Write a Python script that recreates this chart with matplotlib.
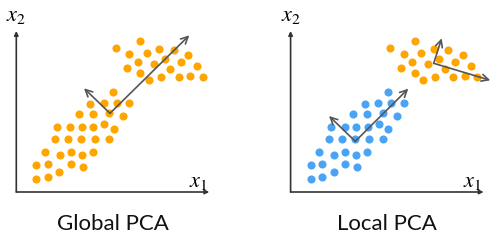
import matplotlib
matplotlib.use("Agg")
import matplotlib.pyplot as plt

plt.rcParams['mathtext.fontset'] = 'stix'

# Data (panel coordinates, 1 unit ~ 1 px, origin at axis corner)
cluster_a_x = [97, 87.7, 100.4, 113, 74, 62.4, 76.4, 92.4, 106.4, 40.7, 54, 65.7, 77, 88, 97.4,
               38.4, 51.4, 64.7, 78.7, 92.7, 28.4, 43.4, 54.4, 65.7, 76.7, 20, 31.7, 54.4, 66.7,
               20, 31.7, 43]
cluster_a_y = [99.7, 89.3, 89.3, 89.3, 87.7, 77.7, 77.7, 78.7, 75.7, 65.3, 65.3, 65.3, 65.3, 68.3, 62.7,
               53.3, 53.3, 53.3, 53.3, 53.3, 40, 37.3, 40, 37.3, 40, 27.3, 28, 28, 25,
               13.3, 15.3, 19.7]
cluster_b_x = [99.4, 124, 113, 130.4, 143, 157.4, 172, 121.4, 137.4, 148.4, 164.7, 180.4, 110.4, 124,
               154, 132.4, 144.4, 162.7, 174, 186.4]
cluster_b_y = [143.7, 150.7, 138.3, 139.3, 142.7, 142, 137, 130, 127.7, 133, 130, 125.7, 123.7, 119,
               123.3, 111.7, 115.3, 115.3, 116.3, 114.7]

# PCA vectors: (center, pc1 tip, pc2 tip)
global_pca = [(93.7, 78.7), (173, 156.7), (67.7, 103.7)]
local_pca_a = [(64.7, 50.7), (117.7, 103.3), (38.4, 76)]
local_pca_b = [(143.1, 128.7), (199.7, 111.7), (151.1, 153.7)]

titles = ["Global PCA", "Local PCA"]

ORANGE = "#FFA500"
BLUE = "#4BA3F5"
AXC = "#333333"
ARC = "#555555"

W, H = 502, 249
fig = plt.figure(figsize=(W / 100, H / 100), dpi=100)

def make_ax(left_px):
    ax = fig.add_axes([left_px / W, (H - 192) / H, 200 / W, 175 / H])
    ax.set_xlim(0, 200)
    ax.set_ylim(0, 175)
    ax.axis('off')
    ax.annotate("", xy=(193, 0), xytext=(0, 0),
                arrowprops=dict(arrowstyle='-|>', color=AXC, lw=1.2, mutation_scale=6,
                                shrinkA=0, shrinkB=0), annotation_clip=False)
    ax.annotate("", xy=(0, 161), xytext=(0, 0),
                arrowprops=dict(arrowstyle='-|>', color=AXC, lw=1.2, mutation_scale=6,
                                shrinkA=0, shrinkB=0), annotation_clip=False)
    ax.text(0, 176, r"$x_2$", fontsize=16, ha='center', va='center', clip_on=False)
    ax.text(182, 10, r"$x_1$", fontsize=16, ha='center', va='center', clip_on=False)
    return ax

def draw_pca(ax, pca):
    c, p1, p2 = pca
    for tip in (p1, p2):
        ax.annotate("", xy=tip, xytext=c,
                    arrowprops=dict(arrowstyle='->,head_length=0.5,head_width=0.25', color=ARC,
                                    lw=1.2, mutation_scale=10, shrinkA=0, shrinkB=0),
                    annotation_clip=False, zorder=5)

# Left panel
ax1 = make_ax(16.3)
ax1.scatter(cluster_a_x, cluster_a_y, s=34, color=ORANGE, linewidths=0, clip_on=False)
ax1.scatter(cluster_b_x, cluster_b_y, s=34, color=ORANGE, linewidths=0, clip_on=False)
draw_pca(ax1, global_pca)
ax1.text(96.7, -32, titles[0], fontsize=16, family='Lato', ha='center',
         va='center', color='#111111', clip_on=False)

# Right panel
ax2 = make_ax(290.6)
ax2.scatter(cluster_a_x, cluster_a_y, s=34, color=BLUE, linewidths=0, clip_on=False)
ax2.scatter(cluster_b_x, cluster_b_y, s=34, color=ORANGE, linewidths=0, clip_on=False)
draw_pca(ax2, local_pca_a)
draw_pca(ax2, local_pca_b)
ax2.text(96.4, -32, titles[1], fontsize=16, family='Lato', ha='center',
         va='center', color='#111111', clip_on=False)

fig.savefig("out.png", dpi=100, facecolor='white')
